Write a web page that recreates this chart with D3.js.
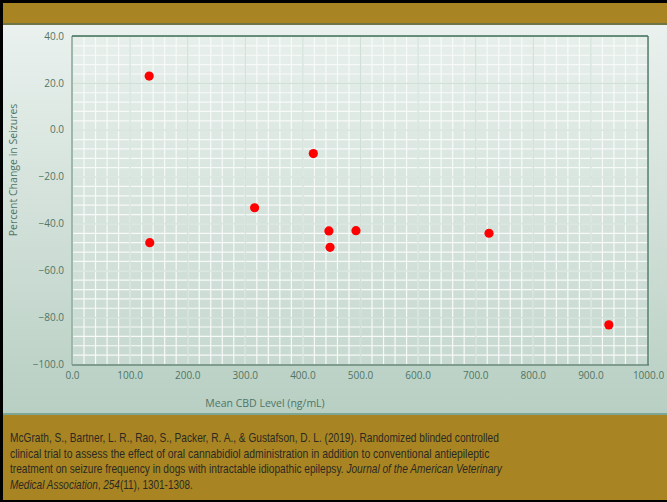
<!DOCTYPE html>
<html>
<head>
<meta charset="utf-8">
<script src="https://cdn.jsdelivr.net/npm/d3@7"></script>
<style>
html,body{margin:0;padding:0;background:#000;}
svg{display:block;}
</style>
</head>
<body>
<svg id="chart" width="667" height="502"></svg>
<script>
// ---- data ----
const cbdLevel = [134, 135, 419, 317, 446, 448, 493, 724, 932];
const seizureChange = [22.9, -48.2, -10.2, -33.3, -43.2, -50.2, -43.1, -44.2, -83.3];
const xTicks = [0, 100, 200, 300, 400, 500, 600, 700, 800, 900, 1000];
const yTicks = [40, 20, 0, -20, -40, -60, -80, -100];
const xTitle = "Mean CBD Level (ng/mL)";
const yTitle = "Percent Change in Seizures";

(function(){
const W = 667, H = 502;
const svg = d3.select("#chart");
const defs = svg.append("defs");

const g1 = defs.append("linearGradient").attr("id","panelGrad").attr("x1",0).attr("y1",0).attr("x2",0).attr("y2",1);
g1.append("stop").attr("offset","0%").attr("stop-color","#eaf1ee");
g1.append("stop").attr("offset","100%").attr("stop-color","#b8cfc3");
const g2 = defs.append("linearGradient").attr("id","plotGrad").attr("x1",0).attr("y1",0).attr("x2",0).attr("y2",1);
g2.append("stop").attr("offset","0%").attr("stop-color","#e7efeb");
g2.append("stop").attr("offset","100%").attr("stop-color","#c7d9d0");

// frame
svg.append("rect").attr("x",0).attr("y",0).attr("width",W).attr("height",H).attr("fill","#000");
svg.append("rect").attr("x",3).attr("y",3).attr("width",W-3).attr("height",H-5).attr("fill","#a88522");
svg.append("rect").attr("x",3).attr("y",23).attr("width",W-3).attr("height",2).attr("fill","#6f7546");
svg.append("rect").attr("x",3).attr("y",25).attr("width",W-3).attr("height",389).attr("fill","url(#panelGrad)");
svg.append("rect").attr("x",3).attr("y",413).attr("width",W-3).attr("height",2).attr("fill","#7fa594");

// scales
const pL = 72, pR = 648, pT = 36, pB = 364;
const x = d3.scaleLinear().domain([0,1000]).range([pL,pR]);
const y = d3.scaleLinear().domain([-100,40]).range([pB,pT]);

svg.append("rect").attr("x",pL).attr("y",pT).attr("width",pR-pL).attr("height",pB-pT).attr("fill","url(#plotGrad)");

// gridlines
const grid = svg.append("g");
const xMinor = d3.range(0,1001,20);
const yMinor = d3.range(-100,41,4);
grid.selectAll(".vx").data(xMinor).join("line")
  .attr("x1",d=>x(d)+0.5).attr("x2",d=>x(d)+0.5).attr("y1",pT).attr("y2",pB)
  .attr("stroke","#f7faf8").attr("stroke-width",1.2);
grid.selectAll(".hy").data(yMinor).join("line")
  .attr("y1",d=>y(d)+0.5).attr("y2",d=>y(d)+0.5).attr("x1",pL).attr("x2",pR)
  .attr("stroke","#f7faf8").attr("stroke-width",1.2);
grid.selectAll(".vxm").data(xTicks).join("line")
  .attr("x1",d=>x(d)+0.5).attr("x2",d=>x(d)+0.5).attr("y1",pT).attr("y2",pB)
  .attr("stroke","#d0e0d8").attr("stroke-width",1.2);
grid.selectAll(".hym").data(yTicks).join("line")
  .attr("y1",d=>y(d)+0.5).attr("y2",d=>y(d)+0.5).attr("x1",pL).attr("x2",pR)
  .attr("stroke","#cfe0d8").attr("stroke-width",1.2);

// plot border
svg.append("line").attr("x1",pL).attr("x2",pL).attr("y1",pT).attr("y2",pB+1).attr("stroke","#9db7aa").attr("stroke-width",2);
svg.append("line").attr("x1",pL).attr("x2",pR+1).attr("y1",pB+1).attr("y2",pB+1).attr("stroke","#7f9d8f").attr("stroke-width",2);
svg.append("line").attr("x1",pL).attr("x2",pR).attr("y1",pT).attr("y2",pT).attr("stroke","#3e6e59").attr("stroke-width",1.3);
svg.append("line").attr("x1",pR).attr("x2",pR).attr("y1",pT).attr("y2",pB+1).attr("stroke","#557f6d").attr("stroke-width",1.5);

// axes (text only)
const tickColor = "#4f7565";
const font = "'Open Sans', 'Liberation Sans', sans-serif";
const yAxis = d3.axisLeft(y).tickValues(yTicks).tickFormat(d3.format(".1f")).tickSize(0).tickPadding(8);
const ya = svg.append("g").attr("transform",`translate(${pL},0)`).call(yAxis);
ya.select(".domain").remove();
ya.selectAll("text").attr("fill",tickColor).style("font-family",font).style("font-size","10px");
const xAxis = d3.axisBottom(x).tickValues(xTicks).tickFormat(d3.format(".1f")).tickSize(0).tickPadding(8);
const xa = svg.append("g").attr("transform",`translate(0,${pB})`).call(xAxis);
xa.select(".domain").remove();
xa.selectAll("text").attr("fill",tickColor).style("font-family",font).style("font-size","10px");

svg.append("text").attr("x",265).attr("y",407).attr("text-anchor","middle")
  .attr("fill",tickColor).style("font-family",font).style("font-size","10.5px").text(xTitle);
svg.append("text").attr("transform","translate(17,170) rotate(-90)").attr("text-anchor","middle")
  .attr("fill",tickColor).style("font-family",font).style("font-size","10.5px").text(yTitle);

// points
svg.append("g").selectAll("circle").data(cbdLevel.map((v,i)=>[v,seizureChange[i]])).join("circle")
  .attr("cx",d=>x(d[0])).attr("cy",d=>y(d[1])).attr("r",4.6).attr("fill","#ff0000");

// citation
const citeLines = [
  [["McGrath, S., Bartner, L. R., Rao, S., Packer, R. A., & Gustafson, D. L. (2019). Randomized blinded controlled", false]],
  [["clinical trial to assess the effect of oral cannabidiol administration in addition to conventional antiepileptic", false]],
  [["treatment on seizure frequency in dogs with intractable idiopathic epilepsy. ", false],["Journal of the American Veterinary", true]],
  [["Medical Association", true],[", ", false],["254", true],["(11), 1301-1308.", false]]
];
const citeWidths = [489, 480, 492, 183];
citeLines.forEach((parts,i)=>{
  const t = svg.append("text").attr("x",0).attr("y",0)
    .attr("fill","#2b2a22").style("font-family","'Liberation Sans', Arial, sans-serif").style("font-size","13px");
  parts.forEach(p=>{
    t.append("tspan").style("font-style",p[1]?"italic":"normal").text(p[0]);
  });
  const w = t.node().getComputedTextLength();
  const s = citeWidths[i]/w;
  t.attr("transform",`translate(10,${442+i*15.5}) scale(${s},1)`);
});
})();
</script>
</body>
</html>
